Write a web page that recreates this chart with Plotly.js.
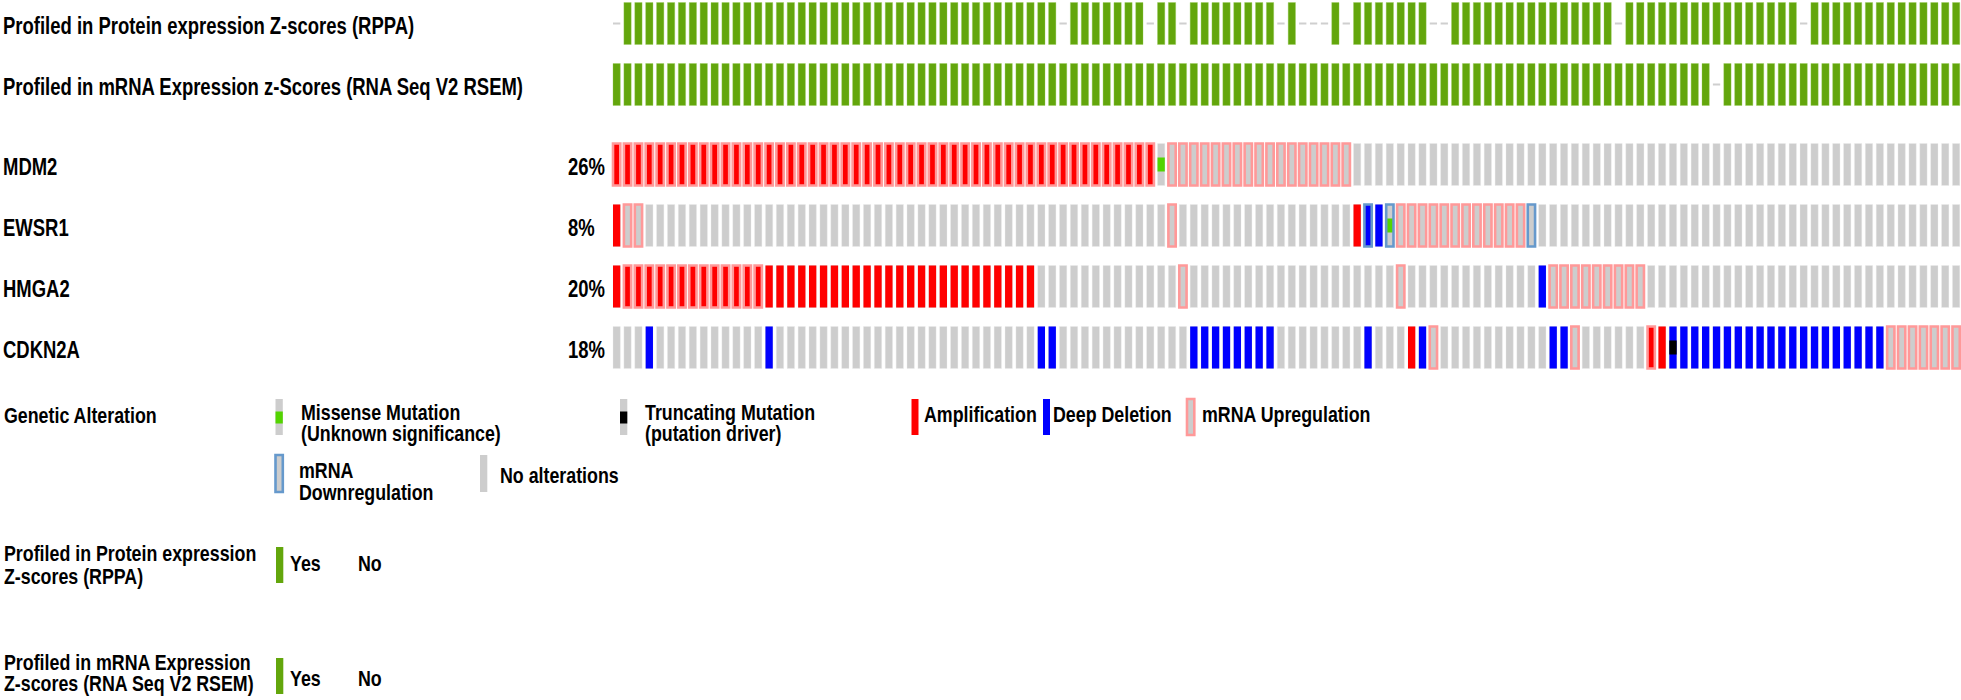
<!DOCTYPE html>
<html><head><meta charset="utf-8">
<script src="https://cdn.plot.ly/plotly-3.0.1.min.js"></script>
<style>html,body{margin:0;padding:0;background:#fff;overflow:hidden}</style>
</head><body><div id="chart" style="width:1961px;height:700px"></div>
<script>
// ---------------- DATA (one character per sample, grouped by ten) ----------------
const genes = ['MDM2', 'EWSR1', 'HMGA2', 'CDKN2A'];
const genePercent = ['26%', '8%', '20%', '18%'];
const clinicalTracks = ['Profiled in Protein expression Z-scores (RPPA)', 'Profiled in mRNA Expression z-Scores (RNA Seq V2 RSEM)'];
// 1 = profiled, 0 = not profiled
const profiledRPPA = "0111111111 1111111111 1111111111 1111111111 1011111110 1101111111 1010001011 1111100111 1111111111 1101111111 1111111110 1111111111 1111";
const profiledMRNA = "1111111111 1111111111 1111111111 1111111111 1111111111 1111111111 1111111111 1111111111 1111111111 1111111111 1011111111 1111111111 1111";
// copy number: A = amplification, D = deep deletion
const cnaMDM2   = "AAAAAAAAAA AAAAAAAAAA AAAAAAAAAA AAAAAAAAAA AAAAAAAAAA .......... .......... .......... .......... .......... .......... .......... ....";
const cnaEWSR1  = "A......... .......... .......... .......... .......... .......... ........AD D......... .......... .......... .......... .......... ....";
const cnaHMGA2  = "AAAAAAAAAA AAAAAAAAAA AAAAAAAAAA AAAAAAAAA. .......... .......... .......... .......... .....D.... .......... .......... .......... ....";
const cnaCDKN2A = "...D...... ....D..... .......... .........D D......... ...DDDDDDD D........D ...AD..... ......DD.. .....AADDD DDDDDDDDDD DDDDDDD... ....";
// mRNA: U = upregulation, d = downregulation
const mrnaMDM2   = "UUUUUUUUUU UUUUUUUUUU UUUUUUUUUU UUUUUUUUUU UUUUUUUUUU .UUUUUUUUU UUUUUUUU.. .......... .......... .......... .......... .......... ....";
const mrnaEWSR1  = ".UU....... .......... .......... .......... .......... .U........ .........d .dUUUUUUUU UUUUd..... .......... .......... .......... ....";
const mrnaHMGA2  = ".UUUUUUUUU UUUU...... .......... .......... .......... ..U....... .......... ..U....... ......UUUU UUUUU..... .......... .......... ....";
const mrnaCDKN2A = ".......... .......... .......... .......... .......... .......... .......... .....U.... ........U. .....U.... .......... .......UUU UUUU";
// mutation: M = missense (unknown significance), T = truncating (putative driver)
const mutMDM2   = ".......... .......... .......... .......... .......... M......... .......... .......... .......... .......... .......... .......... ....";
const mutEWSR1  = ".......... .......... .......... .......... .......... .......... .......... .M........ .......... .......... .......... .......... ....";
const mutHMGA2  = ".......... .......... .......... .......... .......... .......... .......... .......... .......... .......... .......... .......... ....";
const mutCDKN2A = ".......... .......... .......... .......... .......... .......... .......... .......... .......... .......T.. .......... .......... ....";

const cnaRows  = [cnaMDM2, cnaEWSR1, cnaHMGA2, cnaCDKN2A];
const mrnaRows = [mrnaMDM2, mrnaEWSR1, mrnaHMGA2, mrnaCDKN2A];
const mutRows  = [mutMDM2, mutEWSR1, mutHMGA2, mutCDKN2A];

// ---------------- LAYOUT / STYLE ----------------
const W = 1961, H = 700;
const G = {
  col0: 616.65, pitch: 10.89, cellW: 0.67,
  clinTop: [2.5, 63.5], clinH: 42,
  geneTop: [143.5, 204.5, 265.5, 326.5], geneH: 42,
  mutOff: 14, mutH: 14, dashOff: 20, dashH: 2
};
const C = {
  green: '#63a60c', gray: '#cdcdcd', dash: '#cfcfcf', amp: '#ff0000', del: '#0000ff',
  up: '#ff9999', down: '#6699cc', miss: '#53d400', trunc: '#000000'
};
const FONT = "'Liberation Sans', Arial, sans-serif";
const TOP_SIZE = 24, TOP_SX = 0.77;   // condensed bold labels
const LEG_SIZE = 22, LEG_SX = 0.81;

const chars = s => s.replace(/\s+/g, '').split('');
const idx = (s, ch) => chars(s).map((c, i) => c === ch ? i : -1).filter(i => i >= 0);

function bar(xs, base, h, fill, line, lw) {
  return {
    type: 'bar', x: xs, y: xs.map(() => h), base: xs.map(() => base), width: xs.map(() => G.cellW),
    marker: { color: fill, line: { color: line || 'rgba(0,0,0,0)', width: lw || 0 } },
    hoverinfo: 'skip', showlegend: false
  };
}

const traces = [];
[profiledRPPA, profiledMRNA].forEach((s, r) => {
  traces.push(bar(idx(s, '1'), G.clinTop[r], G.clinH, C.green, 'rgba(150,205,90,0.6)', 0.6));
  traces.push(bar(idx(s, '0'), G.clinTop[r] + G.dashOff, G.dashH, C.dash));
});
genes.forEach((g, r) => {
  const top = G.geneTop[r];
  const all = chars(cnaRows[r]).map((c, i) => i);
  traces.push(bar(all, top, G.geneH, C.gray, 'rgba(235,235,235,0.7)', 0.5));
  traces.push(bar(idx(cnaRows[r], 'A'), top, G.geneH, C.amp));
  traces.push(bar(idx(cnaRows[r], 'D'), top, G.geneH, C.del));
  traces.push(bar(idx(mutRows[r], 'M'), top + G.mutOff, G.mutH, C.miss));
  traces.push(bar(idx(mutRows[r], 'T'), top + G.mutOff, G.mutH, C.trunc));
  traces.push(bar(idx(mrnaRows[r], 'U'), top, G.geneH, 'rgba(0,0,0,0)', C.up, 2.6));
  traces.push(bar(idx(mrnaRows[r], 'd'), top, G.geneH, 'rgba(0,0,0,0)', C.down, 2.6));
});

// ---------------- TEXT ----------------
const px = x => x / W, py = y => 1 - y / H;
const scales = [];
function label(text, x, y, size, sx) {
  scales.push(sx);
  return { xref: 'paper', yref: 'paper', x: px(x), y: py(y), xanchor: 'left', yanchor: 'middle', align: 'left',
    text: text, showarrow: false, borderpad: 0,
    font: { family: FONT, size: size, color: '#000', weight: 'bold' } };
}
const ann = [];
clinicalTracks.forEach((t, r) => ann.push(label(t, 2, G.clinTop[r] + G.clinH / 2 + 2, TOP_SIZE, TOP_SX)));
genes.forEach((g, r) => {
  const yc = G.geneTop[r] + G.geneH / 2 + 2;
  ann.push(label(g, 2, yc, TOP_SIZE, TOP_SX));
  ann.push(label(genePercent[r], 567, yc, TOP_SIZE, TOP_SX));
});
const legendTexts = [
  ['Genetic Alteration', 3, 415],
  ['Missense Mutation', 300, 412.5], ['(Unknown significance)', 300, 433.5],
  ['Truncating Mutation', 644, 412.5], ['(putation driver)', 644, 433.5],
  ['Amplification', 923, 414.5], ['Deep Deletion', 1052, 414.5], ['mRNA Upregulation', 1201, 414.5],
  ['mRNA', 298, 470.5], ['Downregulation', 298, 492], ['No alterations', 499, 475],
  ['Profiled in Protein expression', 3, 553.5], ['Z-scores (RPPA)', 3, 576.5],
  ['Yes', 289, 563], ['No', 357, 563],
  ['Profiled in mRNA Expression', 3, 662], ['Z-scores (RNA Seq V2 RSEM)', 3, 683],
  ['Yes', 289, 678], ['No', 357, 678]
];
legendTexts.forEach(t => ann.push(label(t[0], t[1], t[2], LEG_SIZE, LEG_SX)));

function rect(x, y, w, h, fill, line, lw) {
  return { type: 'rect', xref: 'paper', yref: 'paper', x0: px(x), x1: px(x + w), y0: py(y + h), y1: py(y),
    fillcolor: fill, line: { color: line || 'rgba(0,0,0,0)', width: lw || 0 }, layer: 'above' };
}
const shapes = [
  rect(275.5, 399, 7.3, 36, C.gray), rect(275.5, 411.5, 7.3, 12, C.miss),
  rect(620, 399, 7.3, 36, C.gray), rect(620, 411.5, 7.3, 12, C.trunc),
  rect(911.5, 399, 7, 36, C.amp),
  rect(1043, 399, 7, 36, C.del),
  rect(1187, 399, 7.3, 36, C.gray, C.up, 2.6),
  rect(275.5, 455, 7.3, 37, C.gray, C.down, 2.6),
  rect(480, 455, 7.3, 37, C.gray),
  rect(276, 547, 7.3, 36, C.green),
  rect(276, 658, 7.3, 36, C.green)
];

const layout = {
  width: W, height: H, margin: { l: 0, r: 0, t: 0, b: 0, pad: 0 },
  paper_bgcolor: '#fff', plot_bgcolor: '#fff', barmode: 'overlay', showlegend: false,
  xaxis: { range: [(0 - G.col0) / G.pitch, (W - G.col0) / G.pitch], visible: false, fixedrange: true },
  yaxis: { range: [H, 0], visible: false, fixedrange: true },
  annotations: ann, shapes: shapes
};
Plotly.newPlot('chart', traces, layout, { staticPlot: true, displayModeBar: false }).then(gd => {
  // condense the bold labels horizontally (the reference uses a narrow bold face)
  gd.querySelectorAll('g.annotation').forEach(g => {
    const i = +g.getAttribute('data-index');
    const t = g.querySelector('text.annotation-text');
    if (!t || scales[i] == null) return;
    const b = t.getBBox();
    const prev = t.getAttribute('transform') || '';
    t.setAttribute('transform', prev + ' translate(' + b.x + ',0) scale(' + scales[i] + ',1) translate(' + (-b.x) + ',0)');
  });
});
</script></body></html>
